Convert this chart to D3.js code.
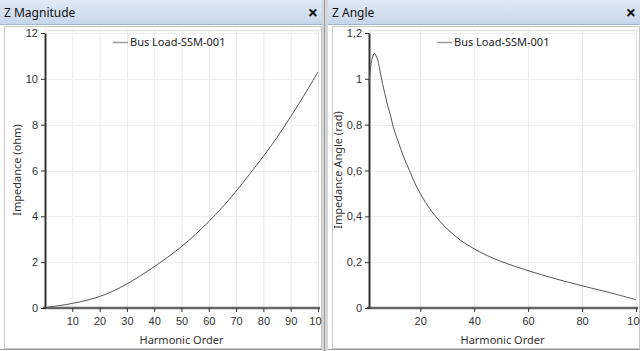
<!DOCTYPE html>
<html>
<head>
<meta charset="utf-8">
<script src="https://cdn.jsdelivr.net/npm/d3@7"></script>
<style>
  body { margin: 0; background: #fff; }
  svg { display: block; font-family: "Noto Sans", "Open Sans", sans-serif; }
</style>
</head>
<body>
<div id="chart"></div>
<script>
// harmonic orders and values
let magOrders = [1, 5, 10, 15, 20, 25, 30, 35, 40, 45, 50, 55, 60, 65, 70, 75, 80, 85, 90, 95, 100];
let magValues = [0.04, 0.1, 0.2, 0.33, 0.5, 0.74, 1.05, 1.41, 1.8, 2.22, 2.68, 3.2, 3.77, 4.4, 5.1, 5.85, 6.62, 7.45, 8.35, 9.3, 10.3];

let angOrders = [1, 2, 3, 4, 5, 6, 7, 8, 9, 10, 12, 14, 16, 18, 20, 22, 25, 30, 35, 40, 45, 50, 60, 70, 80, 90, 100];
let angValues = [0.98, 1.08, 1.11, 1.09, 1.04, 0.98, 0.93, 0.88, 0.84, 0.79, 0.72, 0.655, 0.6, 0.545, 0.5, 0.46, 0.41, 0.345, 0.295, 0.258, 0.228, 0.203, 0.163, 0.128, 0.097, 0.068, 0.036];

let magTicksY = [0, 2, 4, 6, 8, 10, 12];
let magTicksX = [10, 20, 30, 40, 50, 60, 70, 80, 90, 100];
let angTicksY = [0, 0.2, 0.4, 0.6, 0.8, 1, 1.2];
let angTicksX = [20, 40, 60, 80, 100];

let seriesName = "Bus Load-SSM-001";

let width = 640;
let height = 351;

let svg = d3.select("#chart").append("svg").attr("width", width).attr("height", height);

// grey splitter between the two docked panels
svg.append("rect").attr("x", 322).attr("y", 0).attr("width", 6).attr("height", height).attr("fill", "#d6d6d6");
svg.append("line").attr("x1", 324.5).attr("x2", 324.5).attr("y1", 0).attr("y2", height).attr("stroke", "#9a9a9a");

let defs = svg.append("defs");
let grad = defs.append("linearGradient").attr("id", "titleGrad").attr("x1", 0).attr("x2", 0).attr("y1", 0).attr("y2", 1);
grad.append("stop").attr("offset", "0%").attr("stop-color", "#e0eaf6");
grad.append("stop").attr("offset", "100%").attr("stop-color", "#c6d6ea");

function drawPanel(opt) {
  let clipId = "clip" + opt.id;
  defs.append("clipPath").attr("id", clipId)
    .append("rect").attr("x", opt.left).attr("y", 0).attr("width", opt.right - opt.left).attr("height", height);

  let panel = svg.append("g").attr("clip-path", `url(#${clipId})`);

  // title bar
  panel.append("rect").attr("x", opt.left).attr("y", 0).attr("width", opt.right - opt.left).attr("height", 24).attr("fill", "url(#titleGrad)");
  panel.append("line").attr("x1", opt.left).attr("x2", opt.right).attr("y1", 24.5).attr("y2", 24.5).attr("stroke", "#a7b6c9");
  panel.append("text").attr("x", opt.left + 4).attr("y", 17).attr("font-size", 12).attr("fill", "#111").text(opt.title);
  panel.append("text").attr("x", opt.right - 9).attr("y", 19).attr("font-size", 18).attr("font-weight", "bold")
    .attr("text-anchor", "middle").attr("fill", "#111").text("×");

  // panel frame
  panel.append("rect").attr("x", opt.left + 4.5).attr("y", 26.5).attr("width", opt.right - opt.left - 5).attr("height", 322)
    .attr("fill", "none").attr("stroke", "#c8c8c8");
  panel.append("line").attr("x1", opt.left).attr("x2", opt.right).attr("y1", 349.5).attr("y2", 349.5).attr("stroke", "#9a9a9a");

  let xScale = d3.scaleLinear().domain(opt.xDomain).range([opt.plotX0, opt.plotX1]);
  let yScale = d3.scaleLinear().domain(opt.yDomain).range([308, 33]);

  let plot = panel.append("g");

  // grid
  plot.append("g").selectAll("line").data(opt.ticksX).enter().append("line")
    .attr("x1", (d) => xScale(d) + 0.5).attr("x2", (d) => xScale(d) + 0.5)
    .attr("y1", yScale.range()[1] - 2).attr("y2", 308)
    .attr("stroke", "#e8e8e8");
  plot.append("g").selectAll("line").data(opt.ticksY.slice(1)).enter().append("line")
    .attr("x1", opt.plotX0).attr("x2", opt.plotX1)
    .attr("y1", (d) => Math.round(yScale(d)) + 0.5).attr("y2", (d) => Math.round(yScale(d)) + 0.5)
    .attr("stroke", "#eeeeee");
  plot.append("rect").attr("x", opt.plotX0 + 0.5).attr("y", yScale.range()[1] - 2.5)
    .attr("width", opt.plotX1 - opt.plotX0).attr("height", 308 - yScale.range()[1] + 2)
    .attr("fill", "none").attr("stroke", "#e2e2e2");

  // axes
  let xAxis = d3.axisBottom(xScale).tickValues(opt.ticksX).tickSize(4).tickSizeOuter(0).tickPadding(5);
  let yAxis = d3.axisLeft(yScale).tickValues(opt.ticksY).tickSize(4).tickSizeOuter(0).tickPadding(3).tickFormat(opt.fmt);

  let xAxisGroup = plot.append("g").attr("transform", `translate(0,${308})`).call(xAxis);
  xAxisGroup.select(".domain").attr("stroke", "#666").attr("stroke-width", 2.5)
    .attr("d", `M${opt.plotX0 - 2},0H${opt.plotX1 + 2}`);
  xAxisGroup.selectAll(".tick line").attr("stroke", "#333");
  xAxisGroup.selectAll(".tick text").attr("font-size", 11).attr("fill", "#333").attr("font-family", null);

  let yAxisGroup = plot.append("g").attr("transform", `translate(${opt.plotX0},0)`).call(yAxis);
  yAxisGroup.select(".domain").attr("stroke", "#333").attr("stroke-width", 2);
  yAxisGroup.selectAll(".tick line").attr("stroke", "#333");
  yAxisGroup.selectAll(".tick text").attr("font-size", 11).attr("fill", "#333").attr("font-family", null);

  // axis titles
  plot.append("text").attr("x", (opt.plotX0 + opt.plotX1) / 2).attr("y", 344)
    .attr("text-anchor", "middle").attr("font-size", 11).attr("fill", "#333").text("Harmonic Order");
  plot.append("text").attr("transform", `translate(${opt.yTitleX},170) rotate(-90)`)
    .attr("text-anchor", "middle").attr("font-size", 11).attr("fill", "#333").text(opt.yTitle);

  // series
  let points = opt.orders.map((o, i) => [o, opt.values[i]]);
  let line = d3.line().x((d) => xScale(d[0])).y((d) => yScale(d[1])).curve(d3.curveCatmullRom.alpha(0.5));
  plot.append("path").datum(points).attr("d", line)
    .attr("fill", "none").attr("stroke", "#555").attr("stroke-width", 1);

  // legend
  let lx = opt.plotX0 + 68;
  plot.append("line").attr("x1", lx).attr("x2", lx + 15).attr("y1", 42.5).attr("y2", 42.5)
    .attr("stroke", "#999").attr("stroke-width", 1.5);
  plot.append("text").attr("x", lx + 17).attr("y", 46).attr("font-size", 11).attr("fill", "#222").text(seriesName);
}

drawPanel({
  id: "mag", title: "Z Magnitude", left: 0, right: 322,
  plotX0: 45, plotX1: 318, xDomain: [0, 100], yDomain: [0, 12],
  ticksX: magTicksX, ticksY: magTicksY, fmt: d3.format("d"),
  yTitle: "Impedance (ohm)", yTitleX: 21, orders: magOrders, values: magValues
});

drawPanel({
  id: "ang", title: "Z Angle", left: 328, right: 640,
  plotX0: 369, plotX1: 636, xDomain: [1, 100], yDomain: [0, 1.2],
  ticksX: angTicksX, ticksY: angTicksY, fmt: (d) => String(d).replace(".", ","),
  yTitle: "Impedance Angle (rad)", yTitleX: 342, orders: angOrders, values: angValues
});
</script>
</body>
</html>
